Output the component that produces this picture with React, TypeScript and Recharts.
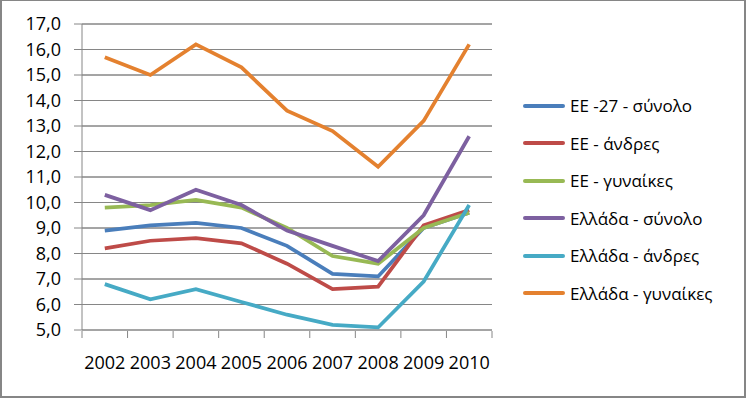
import React from 'react';
import { LineChart, Line, XAxis, YAxis, CartesianGrid } from 'recharts';

const years = ['2002', '2003', '2004', '2005', '2006', '2007', '2008', '2009', '2010'];
const euTotal = [8.9, 9.1, 9.2, 9.0, 8.3, 7.2, 7.1, 9.0, 9.6];
const euMen = [8.2, 8.5, 8.6, 8.4, 7.6, 6.6, 6.7, 9.1, 9.7];
const euWomen = [9.8, 9.9, 10.1, 9.8, 9.0, 7.9, 7.6, 9.0, 9.6];
const grTotal = [10.3, 9.7, 10.5, 9.9, 8.9, 8.3, 7.7, 9.5, 12.6];
const grMen = [6.8, 6.2, 6.6, 6.1, 5.6, 5.2, 5.1, 6.9, 9.9];
const grWomen = [15.7, 15.0, 16.2, 15.3, 13.6, 12.8, 11.4, 13.2, 16.2];

const seriesNames = [
  'ΕΕ -27 - σύνολο',
  'ΕΕ - άνδρες',
  'ΕΕ - γυναίκες',
  'Ελλάδα - σύνολο',
  'Ελλάδα - άνδρες',
  'Ελλάδα - γυναίκες',
];
const seriesKeys = ['euTotal', 'euMen', 'euWomen', 'grTotal', 'grMen', 'grWomen'];
const seriesValues = [euTotal, euMen, euWomen, grTotal, grMen, grWomen];
const seriesColors = ['#4A7EBB', '#BE4B48', '#98B954', '#7D60A0', '#46AAC5', '#E4812F'];

const yTicks = [5, 6, 7, 8, 9, 10, 11, 12, 13, 14, 15, 16, 17];
const boundaryTicks = [0, 1, 2, 3, 4, 5, 6, 7, 8, 9];

const data = years.map((year, i) => {
  const row: Record<string, string | number> = { year, gx: i + 0.5 };
  seriesKeys.forEach((k, s) => {
    row[k] = seriesValues[s][i];
  });
  return row;
});

// horizontal grid lines spanning the whole category range
const gridData = yTicks.map((v) => [
  { gx: 0, gy: v },
  { gx: years.length, gy: v },
]);

const FONT = '"Open Sans", "Liberation Sans", sans-serif';
const GRAY = '#868686';
const fmt = (v: number) => v.toFixed(1).replace('.', ',');

export default function App() {
  return (
    <div style={{ position: 'absolute', left: 0, top: 0, width: 746, height: 398, background: '#fff' }}>
      <LineChart
        width={746}
        height={398}
        data={data}
        margin={{ top: 24, right: 254, bottom: 28, left: 12 }}
      >
        <CartesianGrid vertical={false} stroke={GRAY} />
        <XAxis
          dataKey="year"
          padding={{ left: 22.8, right: 22.8 }}
          axisLine={false}
          tickLine={false}
          tickSize={0}
          tickMargin={26}
          height={1}
          interval={0}
          tick={{ fill: '#000', fontSize: 18, fontFamily: FONT }}
        />
        <XAxis
          xAxisId="tk"
          dataKey="gx"
          type="number"
          domain={[0, years.length]}
          ticks={boundaryTicks}
          interval={0}
          allowDataOverflow
          height={39}
          tickSize={7}
          tickFormatter={() => ''}
          axisLine={false}
          tickLine={{ stroke: GRAY }}
        />
        <YAxis
          domain={[5, 17]}
          ticks={yTicks}
          interval={0}
          width={70}
          tickSize={8}
          tickMargin={13}
          axisLine={{ stroke: GRAY }}
          tickLine={{ stroke: GRAY }}
          tickFormatter={fmt}
          tick={{ fill: '#000', fontSize: 18, fontFamily: FONT }}
        />
        {gridData.map((d, i) => (
          <Line
            key={`grid${yTicks[i]}`}
            xAxisId="tk"
            data={d}
            dataKey="gy"
            type="linear"
            stroke={GRAY}
            strokeWidth={1}
            dot={false}
            activeDot={false}
            legendType="none"
            isAnimationActive={false}
          />
        ))}
        {seriesKeys.map((k, i) => (
          <Line
            key={k}
            type="linear"
            dataKey={k}
            name={seriesNames[i]}
            stroke={seriesColors[i]}
            strokeWidth={3.75}
            dot={false}
            activeDot={false}
            isAnimationActive={false}
          />
        ))}
      </LineChart>
      <div
        style={{
          position: 'absolute',
          left: 523,
          top: 87,
          fontFamily: FONT,
          fontSize: 17,
          color: '#000',
        }}
      >
        {seriesNames.map((name, i) => (
          <div key={name} style={{ display: 'flex', alignItems: 'center', height: 37.5 }}>
            <div
              style={{
                width: 42,
                height: 4,
                borderRadius: 2,
                background: seriesColors[i],
                marginRight: 5,
              }}
            />
            <span style={{ whiteSpace: 'nowrap' }}>{name}</span>
          </div>
        ))}
      </div>
      <div
        style={{
          position: 'absolute',
          left: 0,
          top: 0,
          width: 746,
          height: 398,
          boxSizing: 'border-box',
          borderStyle: 'solid',
          borderColor: GRAY,
          borderWidth: '1px 2px 2px 2px',
          pointerEvents: 'none',
        }}
      />
    </div>
  );
}
